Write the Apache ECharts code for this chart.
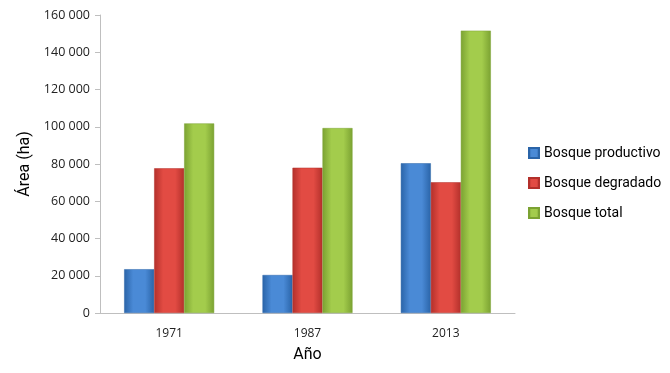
<!DOCTYPE html>
<html>
<head>
<meta charset="utf-8">
<script src="https://cdn.jsdelivr.net/npm/echarts@6/dist/echarts.min.js"></script>
<style>
  html, body { margin: 0; padding: 0; background: #fff; }
  #chart { width: 670px; height: 373px; }
</style>
</head>
<body>
<div id="chart"></div>
<script>
// Datos de la gráfica
const anios = ['1971', '1987', '2013'];
const productivo = [23500, 20400, 80400];
const degradado = [77700, 78000, 70200];
const total = [101800, 99300, 151600];
const nombres = ['Bosque productivo', 'Bosque degradado', 'Bosque total'];

// Colores: [oscuro, claro]
const colores = [
    ['#2a64a8', '#4a8ad6'],
    ['#b3302b', '#e24b43'],
    ['#7ba232', '#a3cc4c']
];

function relleno(c) {
    return new echarts.graphic.LinearGradient(0, 0, 1, 0, [
        {offset: 0, color: c[0]},
        {offset: 0.3, color: c[1]},
        {offset: 0.7, color: c[1]},
        {offset: 1, color: c[0]}
    ]);
}

function formatoMiles(v) {
    return String(v).replace(/\B(?=(\d{3})+(?!\d))/g, ' ');
}

const chart = echarts.init(document.getElementById('chart'));

const serie = (nombre, datos, idx) => ({
    name: nombre,
    type: 'bar',
    data: datos,
    barWidth: 30,
    barGap: '0%',
    itemStyle: {
        color: relleno(colores[idx]),
        borderColor: colores[idx][0],
        borderWidth: 0.5
    }
});

const fuenteTitulos = '"Roboto", sans-serif';

chart.setOption({
    animation: false,
    grid: {
        left: 100,
        right: 155,
        top: 15,
        bottom: 60
    },
    legend: {
        orient: 'vertical',
        left: 523,
        top: 141,
        itemWidth: 10,
        itemHeight: 10,
        itemGap: 16,
        icon: 'rect',
        textStyle: {
            fontFamily: fuenteTitulos,
            fontSize: 14,
            color: '#000'
        },
        data: nombres
    },
    xAxis: {
        type: 'category',
        data: anios,
        name: 'Año',
        nameLocation: 'middle',
        nameGap: 34,
        nameTextStyle: {
            fontFamily: fuenteTitulos,
            fontSize: 16,
            color: '#000'
        },
        axisLine: { lineStyle: { color: '#bfbfbf', width: 1 } },
        axisTick: { show: false },
        axisLabel: {
            fontFamily: '"Open Sans", sans-serif',
            fontSize: 12,
            color: '#222',
            margin: 15
        }
    },
    yAxis: {
        type: 'value',
        min: 0,
        max: 160000,
        interval: 20000,
        name: 'Área (ha)',
        nameLocation: 'middle',
        nameGap: 62,
        nameTextStyle: {
            fontFamily: fuenteTitulos,
            fontSize: 16,
            color: '#000'
        },
        axisLine: { show: true, lineStyle: { color: '#bfbfbf', width: 1 } },
        axisTick: { show: true, length: 5, lineStyle: { color: '#bfbfbf' } },
        splitLine: { show: false },
        axisLabel: {
            fontFamily: '"Open Sans", sans-serif',
            fontSize: 12.5,
            color: '#222',
            margin: 10,
            formatter: formatoMiles
        }
    },
    series: [
        serie(nombres[0], productivo, 0),
        serie(nombres[1], degradado, 1),
        serie(nombres[2], total, 2)
    ]
});
</script>
</body>
</html>
